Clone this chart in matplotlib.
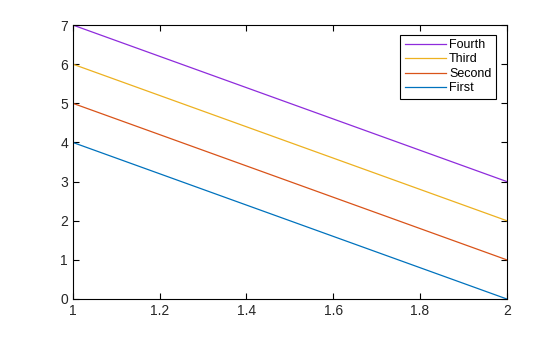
import numpy as np
import matplotlib.pyplot as plt

plt.rcParams['font.family'] = ['Liberation Sans', 'DejaVu Sans']

x = [1, 2]
first = [4, 0]
second = [5, 1]
third = [6, 2]
fourth = [7, 3]
names = ["First", "Second", "Third", "Fourth"]
colors = ["#0072bd", "#d95319", "#edb120", "#8e2bdc"]

fig = plt.figure(figsize=(5.6, 3.37), dpi=100)
ax = fig.add_axes([0.13, 0.1128, 0.775, 0.813])

lines = []
for ys, name, c in zip([first, second, third, fourth], names, colors):
    ln, = ax.plot(x, ys, color=c, linewidth=0.9, label=name)
    lines.append(ln)

ax.set_xlim(1, 2)
ax.set_ylim(0, 7)
ax.set_xticks(np.arange(1, 2.01, 0.2))
ax.set_xticklabels(["1", "1.2", "1.4", "1.6", "1.8", "2"])
ax.set_yticks(range(0, 8))
ax.tick_params(direction="in", length=4, width=0.8, labelsize=10,
               top=True, right=True, colors="black", labelcolor="#262626")
for s in ax.spines.values():
    s.set_linewidth(0.8)

leg = ax.legend(lines[::-1], names[::-1], loc="upper right",
                bbox_to_anchor=(0.975, 0.965), fontsize=9, fancybox=False,
                framealpha=1, edgecolor="black", handlelength=3.3,
                handletextpad=0.25, borderpad=0.35, labelspacing=0.2,
                borderaxespad=0)
leg.get_frame().set_linewidth(0.8)

fig.savefig("out.png", dpi=100)
